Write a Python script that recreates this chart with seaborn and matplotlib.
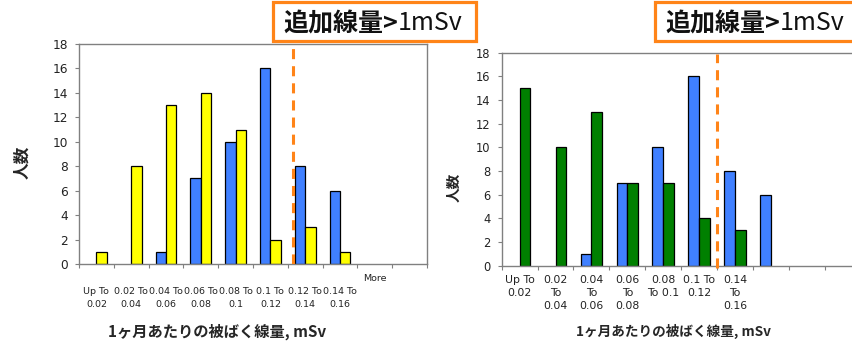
import numpy as np
import pandas as pd
import seaborn as sns
import matplotlib.pyplot as plt
from matplotlib.patches import Rectangle
from matplotlib.text import Annotation

# Dose bins (one month of additional exposure, mSv)
bin_keys = ["0.00-0.02", "0.02-0.04", "0.04-0.06", "0.06-0.08", "0.08-0.10",
            "0.10-0.12", "0.12-0.14", "0.14-0.16", "More", "pad"]

left_tick_labels = ["Up To\n0.02", "0.02 To\n0.04", "0.04 To\n0.06", "0.06 To\n0.08",
                    "0.08 To\n0.1", "0.1 To\n0.12", "0.12 To\n0.14", "0.14 To\n0.16",
                    "More", ""]
right_tick_labels = ["Up To\n0.02", "0.02\nTo\n0.04", "0.04\nTo\n0.06", "0.06\nTo\n0.08",
                     "0.08\nTo 0.1", "0.1 To\n0.12", "0.14\nTo\n0.16", "", "", ""]

# Number of people per bin
counts_common = [0, 0, 1, 7, 10, 16, 8, 6, 0, 0]
counts_left = [1, 8, 13, 14, 11, 2, 3, 1, 0, 0]
counts_right = [15, 10, 13, 7, 7, 4, 3, 0, 0, 0]

y_label = "人数"
x_label = "1ヶ月あたりの被ばく線量, mSv"
badge_bold = "追加線量>"
badge_regular = "1mSv"

BLUE = "#4080FF"
YELLOW = "#FFFF00"
GREEN = "#008000"
ORANGE = "#FF8418"
GRAY = "#808080"
CJK = ["Noto Sans CJK JP", "DejaVu Sans"]

sns.set_theme(style="white")
plt.rcParams["font.family"] = ["DejaVu Sans"]

fig = plt.figure(figsize=(8.52, 3.44), dpi=100)
ax_l = fig.add_axes([0.0927, 0.2326, 0.4085, 0.6395])
ax_r = fig.add_axes([0.5888, 0.2276, 0.4214, 0.6192])


def draw_panel(ax, other_counts, other_color, tick_labels, tick_size, tick_spacing,
               tick_pad, ylab_size, ytick_size):
    df = pd.DataFrame({
        "bin": bin_keys * 2,
        "count": counts_common + other_counts,
        "series": ["series_a"] * len(bin_keys) + ["series_b"] * len(bin_keys),
    })
    sns.barplot(data=df, x="bin", y="count", hue="series", order=bin_keys,
                hue_order=["series_a", "series_b"], palette=[BLUE, other_color],
                width=0.6, edgecolor="black", linewidth=0.9, saturation=1,
                errorbar=None, legend=False, ax=ax)
    # empty bins: no outline on the baseline
    for p in ax.patches:
        if p.get_height() == 0:
            p.set_linewidth(0)

    ax.set_xlim(-0.5, len(bin_keys) - 0.5)
    ax.set_ylim(0, 18)
    ax.set_yticks(range(0, 19, 2))
    ax.set_xticks(range(len(bin_keys)))
    ax.set_xticklabels(tick_labels, fontsize=tick_size, linespacing=tick_spacing,
                       color="#222222")
    ax.set_xticks(np.arange(-0.5, len(bin_keys), 1), minor=True)
    ax.tick_params(axis="x", which="major", length=0, pad=tick_pad)
    ax.tick_params(axis="x", which="minor", length=3, width=0.8, color=GRAY,
                   direction="out", bottom=True)
    ax.tick_params(axis="y", length=3, width=0.8, color=GRAY, direction="out",
                   left=True, labelsize=ytick_size, labelcolor="#222222", pad=5)
    for s in ax.spines.values():
        s.set_color(GRAY)
        s.set_linewidth(1.0)
    ax.set_xlabel("")
    ax.set_ylabel(y_label, family=CJK, fontweight="bold", fontsize=ylab_size)


draw_panel(ax_l, counts_left, YELLOW,
           ["\n" + t if "\n" in t else t for t in left_tick_labels],
           6.8, 1.62, 7.0, 12, 8.7)
draw_panel(ax_r, counts_right, GREEN, right_tick_labels, 7.8, 1.42, 6.5, 10.5, 8.3)

ax_l.yaxis.set_label_coords(-0.138, 0.46)
ax_r.yaxis.set_label_coords(-0.111, 0.37)

fig.text(217 / 852, 1 - 332 / 344, x_label, family=CJK, fontweight="bold",
         fontsize=11, ha="center", va="center")
fig.text(674 / 852, 1 - 331 / 344, x_label, family=CJK, fontweight="bold",
         fontsize=9.8, ha="center", va="center")

# threshold marker between bins
ax_l.axvline(5.66, ymin=0.0, ymax=0.985, color=ORANGE, lw=2.2,
             linestyle=(0, (3.3, 2.3)), zorder=5)
ax_r.axvline(5.49, ymin=-0.01, ymax=0.994, color=ORANGE, lw=2.2,
             linestyle=(0, (3.3, 2.3)), zorder=5, clip_on=False)


def badge(x0, x1, y_top, y_bot, text_x, text_y):
    fig.add_artist(Rectangle((x0 / 852, 1 - y_bot / 344), (x1 - x0) / 852,
                             (y_bot - y_top) / 344, transform=fig.transFigure,
                             facecolor="white", edgecolor=ORANGE, linewidth=2.3,
                             zorder=10, clip_on=False))
    t1 = fig.text(text_x / 852, 1 - text_y / 344, badge_bold, family=CJK,
                  fontweight="bold", fontsize=18, ha="left", va="bottom", zorder=11,
                  color="#111111")
    t2 = Annotation(badge_regular, xy=(1, 0), xycoords=t1, ha="left", va="bottom",
                    family=CJK, fontweight="normal", fontsize=18, color="#111111",
                    annotation_clip=False)
    t2.set_zorder(11)
    fig.add_artist(t2)


badge(273, 476, 1.7, 40.7, 283, 36)
badge(655, 870, 2.0, 41.0, 665, 36.5)

fig.savefig("out.png", dpi=100)
